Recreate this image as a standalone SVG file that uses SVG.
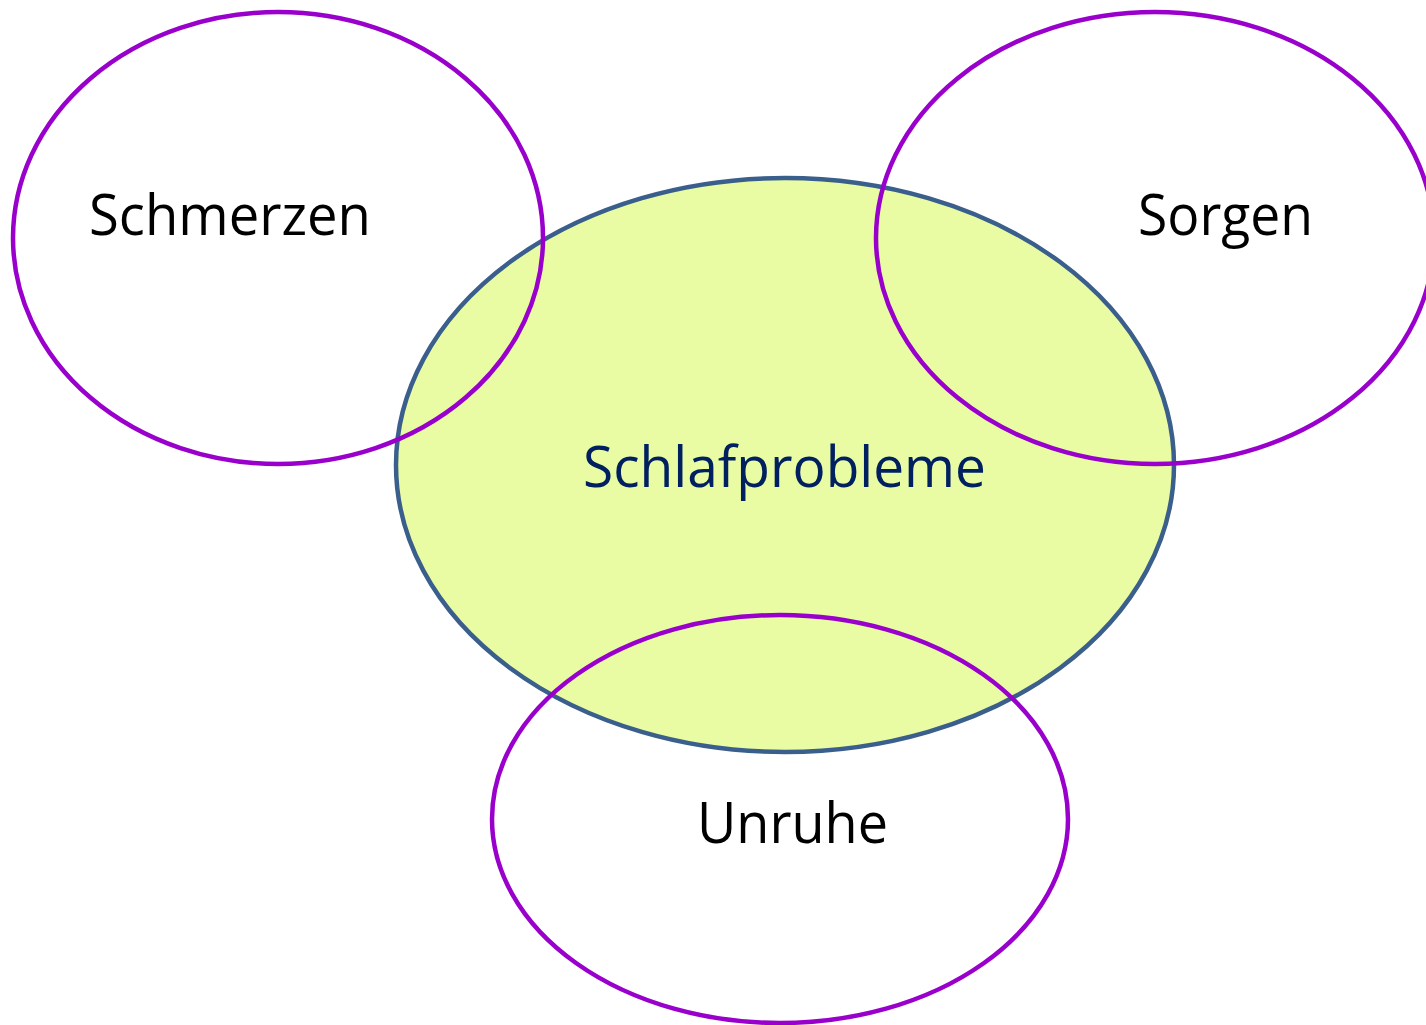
<svg xmlns="http://www.w3.org/2000/svg" width="1426" height="1025" viewBox="0 0 1426 1025">
<style>
.outer{fill:none;stroke:#9900CC;stroke-width:4.5}
.lbl{font-family:"Open Sans","Liberation Sans",sans-serif;font-size:56px;fill:#000000}
</style>
<rect width="1426" height="1025" fill="#ffffff"/>
<g id="schlafprobleme">
<ellipse cx="785" cy="465" rx="389" ry="287" fill="#EAFCA3" stroke="#3A5F8C" stroke-width="4.5"/>
<text class="lbl" x="583" y="487" textLength="403" lengthAdjust="spacingAndGlyphs" style="fill:#002060">Schlafprobleme</text>
</g>
<g id="schmerzen">
<ellipse class="outer" cx="278" cy="238" rx="265" ry="226"/>
<text class="lbl" x="89" y="235" textLength="282" lengthAdjust="spacingAndGlyphs">Schmerzen</text>
</g>
<g id="sorgen">
<ellipse class="outer" cx="1155" cy="238" rx="279" ry="226"/>
<text class="lbl" x="1138" y="235" textLength="175" lengthAdjust="spacingAndGlyphs">Sorgen</text>
</g>
<g id="unruhe">
<ellipse class="outer" cx="780" cy="819" rx="288" ry="204"/>
<text class="lbl" x="697" y="843" textLength="191" lengthAdjust="spacingAndGlyphs">Unruhe</text>
</g>
<g id="connectors"></g>
</svg>
